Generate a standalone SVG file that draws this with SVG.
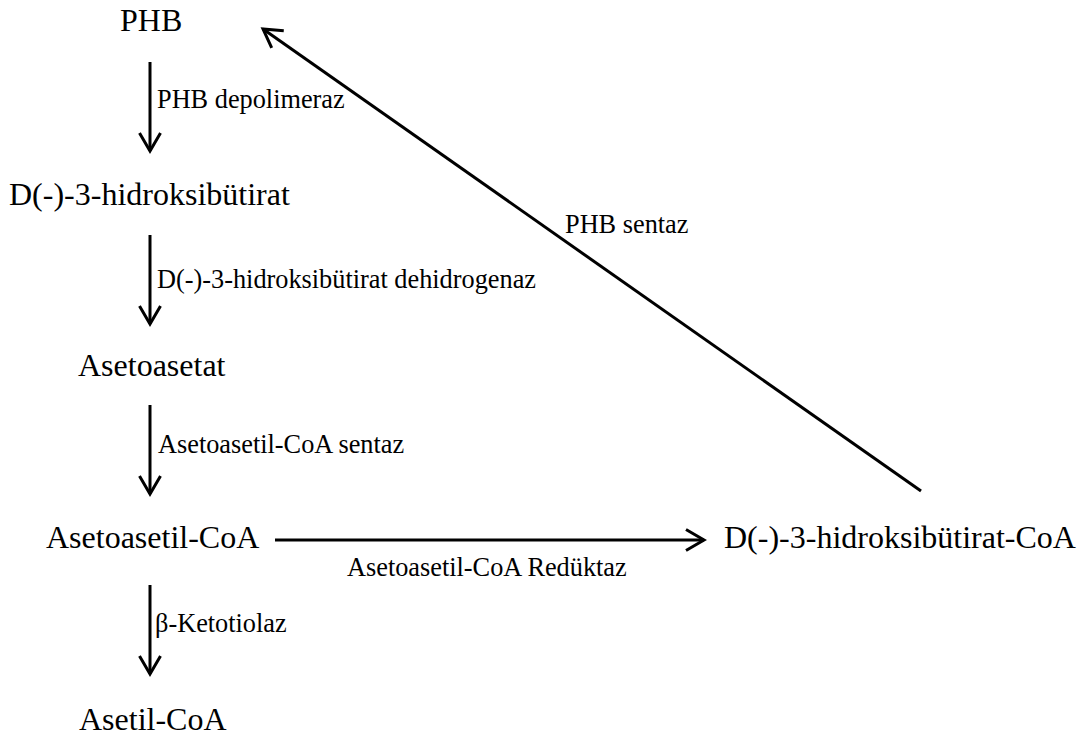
<svg xmlns="http://www.w3.org/2000/svg" width="1090" height="738" viewBox="0 0 1090 738">
<defs>
<style>
.n{font-size:32px;fill:#000}
.l{font-size:26.3px;fill:#000}
.c{stroke:#000;stroke-width:3;fill:none}
</style>
<marker id="ah" markerUnits="userSpaceOnUse" orient="auto" refX="0" refY="0" markerWidth="30" markerHeight="30" overflow="visible">
<path d="M -18 -10.5 L 0 0 L -18 10.5" fill="none" stroke="#000" stroke-width="3"/>
</marker>
</defs>
<rect width="1090" height="738" fill="#fff"/>
<g font-family="Liberation Serif, Times New Roman, DejaVu Serif, serif">
<g id="nodes">
<g id="n-phb"><text class="n" x="120" y="31">PHB</text></g>
<g id="n-hb"><text class="n" x="9" y="205">D(-)-3-hidroksibütirat</text></g>
<g id="n-aa"><text class="n" x="78" y="376">Asetoasetat</text></g>
<g id="n-aacoa"><text class="n" x="46" y="548">Asetoasetil-CoA</text></g>
<g id="n-hbcoa"><text class="n" x="724" y="548">D(-)-3-hidroksibütirat-CoA</text></g>
<g id="n-acoa"><text class="n" x="79" y="730">Asetil-CoA</text></g>
</g>
<g id="labels">
<text class="l" x="157" y="108">PHB depolimeraz</text>
<text class="l" x="157" y="288">D(-)-3-hidroksibütirat dehidrogenaz</text>
<text class="l" x="158" y="453">Asetoasetil-CoA sentaz</text>
<text class="l" x="155" y="632">β-Ketotiolaz</text>
<text class="l" x="347" y="576">Asetoasetil-CoA Redüktaz</text>
<text class="l" x="565" y="233">PHB sentaz</text>
</g>
</g>
<g id="connectors">
<line class="c" x1="150" y1="62" x2="150" y2="151" marker-end="url(#ah)"/>
<line class="c" x1="150" y1="235" x2="150" y2="324" marker-end="url(#ah)"/>
<line class="c" x1="150" y1="405" x2="150" y2="494" marker-end="url(#ah)"/>
<line class="c" x1="150" y1="585" x2="150" y2="674" marker-end="url(#ah)"/>
<line class="c" x1="275" y1="540" x2="704" y2="540" marker-end="url(#ah)"/>
<line class="c" x1="921" y1="491" x2="263" y2="29" marker-end="url(#ah)"/>
</g>
</svg>
